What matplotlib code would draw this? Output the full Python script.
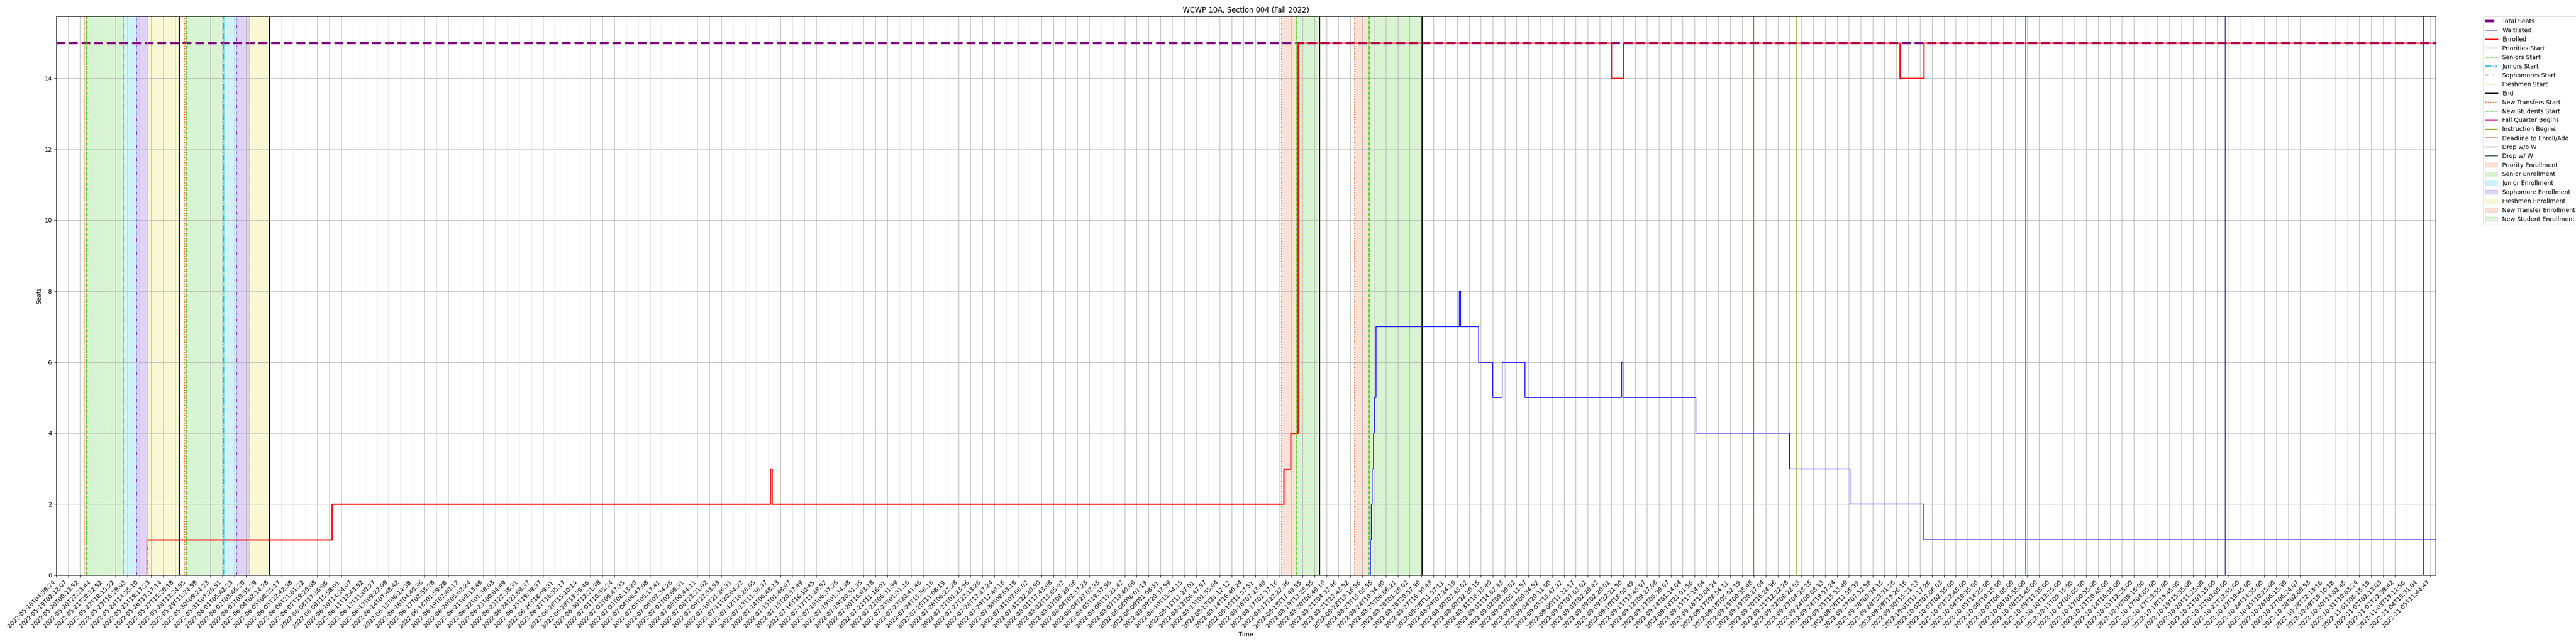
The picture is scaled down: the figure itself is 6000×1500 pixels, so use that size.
import matplotlib
matplotlib.use('Agg')
import matplotlib.pyplot as plt

# x values are positions on the sample axis, in units of one tick step
tick_labels = [
    '2022-05-18T04:39:24', '2022-05-19T02:12:07', '2022-05-20T00:13:52', '2022-05-20T22:23:44',
    '2022-05-21T20:22:52', '2022-05-22T18:15:22', '2022-05-23T16:29:03', '2022-05-24T14:35:10',
    '2022-05-25T19:17:23', '2022-05-26T17:17:14', '2022-05-27T15:20:18', '2022-05-28T13:24:55',
    '2022-05-29T11:24:59', '2022-05-30T09:24:23', '2022-05-31T07:26:51', '2022-06-01T05:42:23',
    '2022-06-02T03:46:20', '2022-06-03T03:55:29', '2022-06-04T02:14:28', '2022-06-05T00:25:17',
    '2022-06-05T22:42:38', '2022-06-06T21:01:22', '2022-06-07T19:20:08', '2022-06-08T17:36:06',
    '2022-06-09T15:58:01', '2022-06-10T14:24:07', '2022-06-11T12:43:52', '2022-06-12T11:00:27',
    '2022-06-13T09:22:09', '2022-06-14T07:48:42', '2022-06-15T06:14:38', '2022-06-16T04:40:36',
    '2022-06-17T02:55:28', '2022-06-18T01:59:28', '2022-06-19T02:40:12', '2022-06-20T05:02:24',
    '2022-06-21T03:13:49', '2022-06-22T01:38:03', '2022-06-23T00:04:49', '2022-06-23T22:38:31',
    '2022-06-24T21:09:37', '2022-06-25T19:39:37', '2022-06-26T18:09:31', '2022-06-27T16:35:17',
    '2022-06-28T15:10:14', '2022-06-29T13:39:46', '2022-06-30T12:21:38', '2022-07-01T10:55:24',
    '2022-07-02T09:47:35', '2022-07-03T08:13:20', '2022-07-04T06:47:08', '2022-07-05T05:17:41',
    '2022-07-06T03:34:26', '2022-07-07T02:09:31', '2022-07-08T00:44:11', '2022-07-08T23:21:02',
    '2022-07-09T22:53:53', '2022-07-10T21:26:31', '2022-07-11T20:04:22', '2022-07-12T16:26:05',
    '2022-07-13T11:36:37', '2022-07-14T06:48:13', '2022-07-15T01:48:07', '2022-07-15T20:57:49',
    '2022-07-16T16:10:45', '2022-07-17T11:28:52', '2022-07-18T06:37:26', '2022-07-19T01:34:38',
    '2022-07-19T20:51:35', '2022-07-20T16:03:18', '2022-07-21T11:16:01', '2022-07-22T06:31:59',
    '2022-07-23T01:31:16', '2022-07-23T20:41:46', '2022-07-24T15:56:16', '2022-07-25T11:08:19',
    '2022-07-26T06:22:28', '2022-07-27T01:23:56', '2022-07-27T22:13:26', '2022-07-28T17:27:24',
    '2022-07-29T12:40:18', '2022-07-30T08:03:19', '2022-07-31T03:06:02', '2022-07-31T22:20:50',
    '2022-08-01T17:43:08', '2022-08-02T13:05:02', '2022-08-03T08:29:08', '2022-08-04T03:37:23',
    '2022-08-04T23:02:33', '2022-08-05T19:57:56', '2022-08-06T15:21:42', '2022-08-07T10:40:09',
    '2022-08-08T06:01:13', '2022-08-09T01:08:51', '2022-08-09T20:33:59', '2022-08-10T15:54:15',
    '2022-08-11T11:27:01', '2022-08-12T06:47:57', '2022-08-13T01:55:04', '2022-08-13T21:12:12',
    '2022-08-14T16:40:24', '2022-08-15T11:57:51', '2022-08-16T07:23:49', '2022-08-17T02:37:16',
    '2022-08-17T22:22:36', '2022-08-18T17:49:55', '2022-08-19T13:25:55', '2022-08-20T08:49:10',
    '2022-08-21T04:32:46', '2022-08-21T23:43:52', '2022-08-22T19:16:56', '2022-08-23T15:05:55',
    '2022-08-24T10:34:40', '2022-08-25T06:06:21', '2022-08-26T01:28:02', '2022-08-26T20:57:39',
    '2022-08-27T16:30:43', '2022-08-28T11:57:11', '2022-08-29T07:24:19', '2022-08-30T02:45:02',
    '2022-08-30T22:20:15', '2022-08-31T18:33:40', '2022-09-01T14:02:33', '2022-09-02T09:39:02',
    '2022-09-03T05:11:57', '2022-09-04T00:34:52', '2022-09-04T20:11:00', '2022-09-05T15:47:32',
    '2022-09-06T11:21:17', '2022-09-07T07:03:02', '2022-09-08T02:29:42', '2022-09-09T02:20:01',
    '2022-09-09T22:21:50', '2022-09-10T18:00:49', '2022-09-11T13:45:07', '2022-09-12T09:27:08',
    '2022-09-13T05:39:07', '2022-09-14T01:14:04', '2022-09-14T21:01:56', '2022-09-15T17:14:04',
    '2022-09-16T13:04:24', '2022-09-17T08:54:11', '2022-09-18T05:02:19', '2022-09-19T00:35:48',
    '2022-09-19T20:27:04', '2022-09-20T16:24:36', '2022-09-21T12:22:28', '2022-09-22T08:22:03',
    '2022-09-23T04:28:25', '2022-09-24T00:08:33', '2022-09-24T19:57:24', '2022-09-25T15:53:49',
    '2022-09-26T11:55:39', '2022-09-27T07:52:59', '2022-09-28T03:34:15', '2022-09-28T23:31:26',
    '2022-09-29T19:26:16', '2022-09-30T15:21:23', '2022-10-01T11:17:26', '2022-10-02T07:06:03',
    '2022-10-03T02:55:00', '2022-10-03T22:45:00', '2022-10-04T18:35:00', '2022-10-05T14:25:00',
    '2022-10-06T10:15:00', '2022-10-07T06:05:00', '2022-10-08T01:55:00', '2022-10-08T21:45:00',
    '2022-10-09T17:35:00', '2022-10-10T13:25:00', '2022-10-11T09:15:00', '2022-10-12T05:05:00',
    '2022-10-13T00:55:00', '2022-10-13T20:45:00', '2022-10-14T16:35:00', '2022-10-15T12:25:00',
    '2022-10-16T08:15:00', '2022-10-17T04:05:00', '2022-10-17T23:55:00', '2022-10-18T19:45:00',
    '2022-10-19T15:35:00', '2022-10-20T11:25:00', '2022-10-21T07:15:00', '2022-10-22T03:05:00',
    '2022-10-22T22:55:00', '2022-10-23T18:45:00', '2022-10-24T14:35:00', '2022-10-25T10:25:00',
    '2022-10-26T06:15:30', '2022-10-27T06:24:07', '2022-10-28T02:08:53', '2022-10-28T22:13:16',
    '2022-10-29T18:10:18', '2022-10-30T14:02:45', '2022-10-31T10:03:24', '2022-11-01T06:15:18',
    '2022-11-02T02:13:03', '2022-11-02T22:39:42', '2022-11-03T19:11:56', '2022-11-04T15:31:04',
    '2022-11-05T11:44:47',
]
last_sample = 200.42

total_seats = 15

# step series: (position where the value starts, value)
enrolled_x = [0, 7.64, 23.2, 60.15, 60.3, 103.4, 103.96, 104.5, 104.6, 131.0, 132.0, 155.3, 157.3, last_sample]
enrolled_y = [0, 1, 2, 3, 2, 3, 4, 4, 15, 14, 15, 14, 15, 15]

waitlist_x = [0, 110.68, 110.78, 110.85, 110.95, 111.05, 111.15, 118.2, 118.3, 119.8, 121.0, 121.8,
              123.7, 131.85, 131.95, 138.1, 146.0, 151.1, 157.3, last_sample]
waitlist_y = [0, 1, 2, 3, 4, 5, 7, 8, 7, 6, 5, 6, 5, 6, 5, 4, 3, 2, 1, 1]

# enrollment passes
priorities_start = [2.35, 10.83]
seniors_start = [2.53, 11.01]
juniors_start = [5.64, 14.11]
sophomores_start = [6.76, 15.20]
freshmen_start = [7.67, 16.28]
pass_end = [10.35, 17.92]
new_transfers_start = [103.2, 109.36]
new_students_start = [104.45, 110.6]
new_end = [106.4, 115.04]

fall_quarter_begins = 142.97
instruction_begins = 146.6
deadline_add = 165.9
drop_wo_w = 182.7
drop_w_w = 199.4

c_pri, c_sen, c_jun, c_sop, c_fre = '#ee6a33', '#44cc22', '#11c4d4', '#6a22d8', '#e0e030'

fig, ax = plt.subplots(figsize=(60, 15), dpi=100)
fig.subplots_adjust(left=131 / 6000, right=5673 / 6000, top=1 - 37.5 / 1500, bottom=1 - 1339.5 / 1500)

ax.plot([0, last_sample], [total_seats, total_seats], color='purple', linestyle='--', linewidth=4, label='Total Seats')
ax.plot(waitlist_x, waitlist_y, color='blue', linewidth=1.2, drawstyle='steps-post', label='Waitlisted')
ax.plot(enrolled_x, enrolled_y, color='red', linewidth=2, drawstyle='steps-post', label='Enrolled')

# lines first so they come first in the legend
for i in range(len(pass_end)):
    lab = (i == 0)
    ax.axvline(priorities_start[i], color=c_pri, linestyle=':', linewidth=1.6, label='Priorities Start' if lab else None)
    ax.axvline(seniors_start[i], color=c_sen, linestyle='--', linewidth=1.6, label='Seniors Start' if lab else None)
    ax.axvline(juniors_start[i], color=c_jun, linestyle='-.', linewidth=1.6, label='Juniors Start' if lab else None)
    ax.axvline(sophomores_start[i], color=c_sop, linestyle=(0, (3, 5, 1, 5)), linewidth=1.6, label='Sophomores Start' if lab else None)
    ax.axvline(freshmen_start[i], color=c_fre, linestyle=(0, (3, 1, 1, 1, 1, 1)), linewidth=1.6, label='Freshmen Start' if lab else None)
    ax.axvline(pass_end[i], color='black', linewidth=2, label='End' if lab else None)

for i in range(len(new_end)):
    lab = (i == 0)
    ax.axvline(new_transfers_start[i], color=c_pri, linestyle=':', linewidth=1.6, label='New Transfers Start' if lab else None)
    ax.axvline(new_students_start[i], color=c_sen, linestyle='--', linewidth=1.6, label='New Students Start' if lab else None)
    ax.axvline(new_end[i], color='black', linewidth=2)

ax.axvline(fall_quarter_begins, color='#dd11aa', linewidth=1.2, label='Fall Quarter Begins')
ax.axvline(instruction_begins, color='#88aa11', linewidth=1.2, label='Instruction Begins')
ax.axvline(deadline_add, color='#cc4422', linewidth=1.2, label='Deadline to Enroll/Add')
ax.axvline(drop_wo_w, color='#2a2a88', linewidth=1.2, label='Drop w/o W')
ax.axvline(drop_w_w, color='#2b3a55', linewidth=1.2, label='Drop w/ W')

# shaded enrollment windows
for i in range(len(pass_end)):
    lab = (i == 0)
    ax.axvspan(priorities_start[i], seniors_start[i], color=c_pri, alpha=0.2, label='Priority Enrollment' if lab else None)
    ax.axvspan(seniors_start[i], juniors_start[i], color=c_sen, alpha=0.2, label='Senior Enrollment' if lab else None)
    ax.axvspan(juniors_start[i], sophomores_start[i], color=c_jun, alpha=0.2, label='Junior Enrollment' if lab else None)
    ax.axvspan(sophomores_start[i], freshmen_start[i], color=c_sop, alpha=0.2, label='Sophomore Enrollment' if lab else None)
    ax.axvspan(freshmen_start[i], pass_end[i], color=c_fre, alpha=0.2, label='Freshmen Enrollment' if lab else None)

for i in range(len(new_end)):
    lab = (i == 0)
    ax.axvspan(new_transfers_start[i], new_students_start[i], color=c_pri, alpha=0.2, label='New Transfer Enrollment' if lab else None)
    ax.axvspan(new_students_start[i], new_end[i], color=c_sen, alpha=0.2, label='New Student Enrollment' if lab else None)

ax.set_xticks(range(len(tick_labels)))
ax.set_xticklabels(tick_labels, rotation=45, ha='right')
ax.set_xlim(0, last_sample)
ax.set_ylim(0, 15.75)
ax.grid(True)

ax.set_title('WCWP 10A, Section 004 (Fall 2022)')
ax.set_xlabel('Time')
ax.set_ylabel('Seats')
ax.legend(loc='upper left', bbox_to_anchor=(1.02, 1), borderaxespad=0)

fig.savefig('out.png')
